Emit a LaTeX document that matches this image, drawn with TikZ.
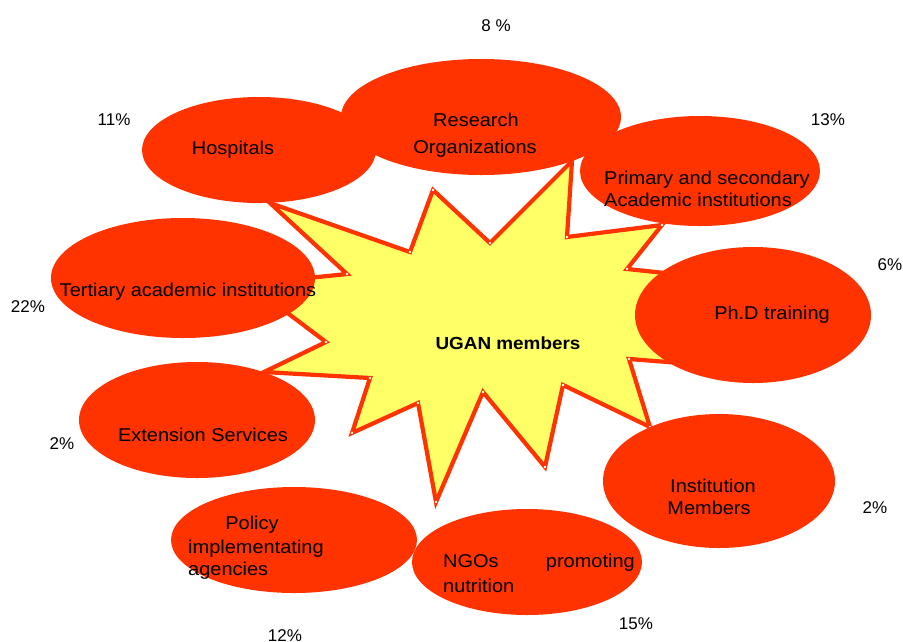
\documentclass[tikz,border=0pt]{standalone}
\usepackage{fontspec}
\setmainfont{Liberation Sans}
\newfontfamily\blobfont{Liberation Sans}[FakeStretch=1.08]
\usepackage{tikz}
\usetikzlibrary{shapes.geometric}
\definecolor{blobred}{HTML}{FF3300}
\definecolor{staryellow}{HTML}{FFFF66}
\newcommand{\labelsize}{\blobfont\fontsize{18.5pt}{0}\selectfont}
\newcommand{\pctsize}{\fontsize{17pt}{0}\selectfont}
\tikzset{
  blob/.style={ellipse, fill=blobred, draw=none, inner sep=0pt, outer sep=0pt},
  blobLabel/.style={inner sep=0mm, anchor=base, font=\labelsize},
  pctLabel/.style={inner sep=0mm, anchor=base, font=\pctsize},
  starEdge/.style={draw=blobred, fill=staryellow, line width=4.2pt, line join=miter}
}

\begin{document}
\begin{tikzpicture}[x=1pt, y=-1pt]
\useasboundingbox (0,0) rectangle (903,641);

% star behind the ellipses
\draw[starEdge] (270,203) -- (410,252) -- (433,190) -- (490,243) -- (572,161) -- (567,237)
  -- (662,225) -- (627,269) -- (780,285) -- (770,370) -- (629,359) -- (650,427)
  -- (563,385) -- (545,467) -- (483,392) -- (436,502) -- (418,403) -- (352,433)
  -- (370,378) -- (264,372) -- (326,342) -- (249,284) -- (347,274) -- cycle;
\foreach \p in {(410,252),(433,190),(490,243),(567,237),(662,225),(627,269),(629,359),
  (650,427),(563,385),(545,467),(483,392),(436,502),(418,403),(352,433),(370,378),
  (326,342),(347,274)}
  \fill[white] \p circle (1.4pt);

\node[blob, minimum width=234pt, minimum height=106pt] at (259, 150) (hospitals) {};
\node[blob, minimum width=280pt, minimum height=116pt] at (481, 117) (research) {};
\node[blob, minimum width=240pt, minimum height=110pt] at (700, 171) (primary) {};
\node[blob, minimum width=236pt, minimum height=136pt] at (753, 315) (phd) {};
\node[blob, minimum width=264pt, minimum height=120pt] at (183, 278) (tertiary) {};
\node[blob, minimum width=236pt, minimum height=116pt] at (197, 420) (extension) {};
\node[blob, minimum width=232pt, minimum height=134pt] at (719, 481) (institution) {};
\node[blob, minimum width=246pt, minimum height=106pt] at (294, 540) (policy) {};
\node[blob, minimum width=230pt, minimum height=106pt] at (527, 562) (ngos) {};

\node[blobLabel] at (233, 154) (hospitalsLabel) {Hospitals};
\node[blobLabel] at (476, 126) (researchLabel) {Research};
\node[blobLabel] at (475, 153) (researchLabelB) {Organizations};
\node[blobLabel, anchor=base west] at (604, 184) (primaryLabel) {Primary and secondary};
\node[blobLabel, anchor=base west] at (604, 206) (primaryLabelB) {Academic institutions};
\node[blobLabel] at (772, 319) (phdLabel) {Ph.D training};
\node[blobLabel] at (188, 296) (tertiaryLabel) {Tertiary academic institutions};
\node[blobLabel] at (203, 441) (extensionLabel) {Extension Services};
\node[blobLabel] at (713, 492) (institutionLabel) {Institution};
\node[blobLabel] at (709, 514) (institutionLabelB) {Members};
\node[blobLabel] at (252, 529) (policyLabel) {Policy};
\node[blobLabel, anchor=base west] at (188, 553) (policyLabelB) {implementating};
\node[blobLabel, anchor=base west] at (188, 575) (policyLabelC) {agencies};
\node[blobLabel, anchor=base west] at (443, 567) (ngosLabel) {NGOs};
\node[blobLabel, anchor=base east] at (635, 567) (ngosLabelB) {promoting};
\node[blobLabel, anchor=base west] at (443, 592) (ngosLabelC) {nutrition};

\node[blobLabel, font=\blobfont\fontsize{17.5pt}{0}\selectfont\bfseries] at (508, 349) (starLabel) {UGAN members};

\node[pctLabel] at (496, 31.5) (researchPct) {8 \%};
\node[pctLabel] at (114, 125.5) (hospitalsPct) {11\%};
\node[pctLabel] at (828, 125.5) (primaryPct) {13\%};
\node[pctLabel] at (890, 270.5) (phdPct) {6\%};
\node[pctLabel] at (28, 312) (tertiaryPct) {22\%};
\node[pctLabel] at (62, 449.5) (extensionPct) {2\%};
\node[pctLabel] at (875, 513.5) (institutionPct) {2\%};
\node[pctLabel] at (636, 629.5) (ngosPct) {15\%};
\node[pctLabel] at (285, 641) (policyPct) {12\%};

\end{tikzpicture}
\end{document}
